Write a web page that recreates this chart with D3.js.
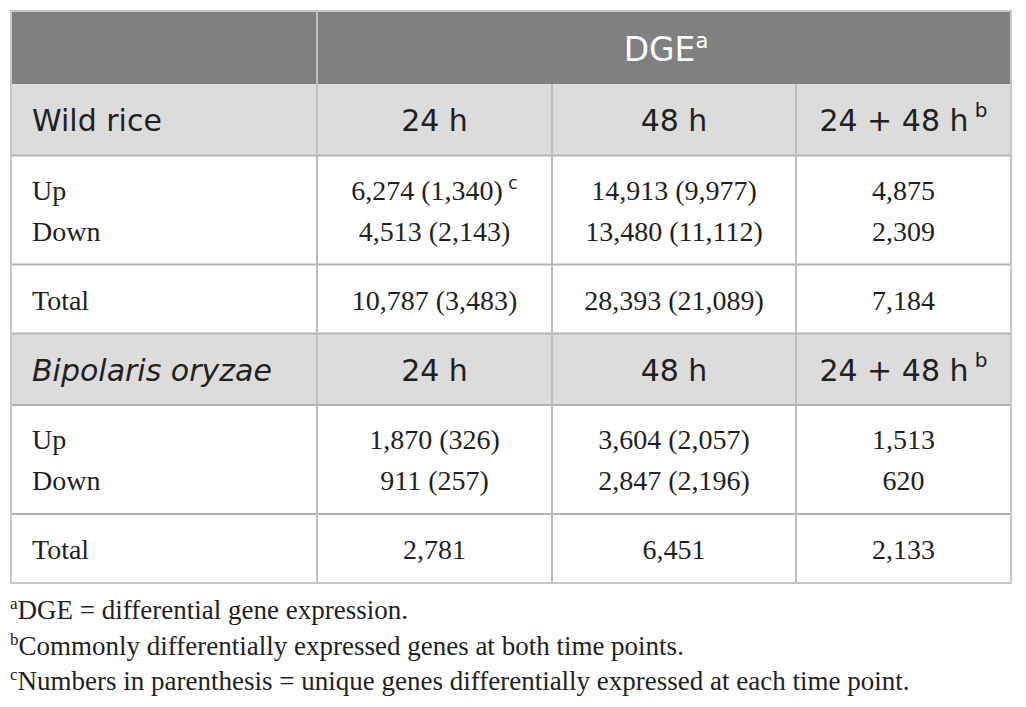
<!DOCTYPE html>
<html>
<head>
<meta charset="utf-8">
<script src="https://cdn.jsdelivr.net/npm/d3@7"></script>
<style>
  body { margin: 0; background: #fff; }
</style>
</head>
<body>
<div id="table-area"></div>
<script>
// column headings
var timePoints = ["24 h", "48 h", "24 + 48 h"];
var timeNotes = ["", "", "b"];
var groups = ["Wild rice", "Bipolaris oryzae"];
var rowLabels = ["Up", "Down", "Total"];

// wild rice (unique genes in parenthesis, null = not given)
var riceUp = [6274, 14913, 4875];
var riceUpUnique = [1340, 9977, null];
var riceDown = [4513, 13480, 2309];
var riceDownUnique = [2143, 11112, null];
var riceTotal = [10787, 28393, 7184];
var riceTotalUnique = [3483, 21089, null];

// Bipolaris oryzae
var fungusUp = [1870, 3604, 1513];
var fungusUpUnique = [326, 2057, null];
var fungusDown = [911, 2847, 620];
var fungusDownUnique = [257, 2196, null];
var fungusTotal = [2781, 6451, 2133];
var fungusTotalUnique = [null, null, null];

var footnotes = [
    ["a", "DGE = differential gene expression."],
    ["b", "Commonly differentially expressed genes at both time points."],
    ["c", "Numbers in parenthesis = unique genes differentially expressed at each time point."]
];

var blocks = [
    { name: groups[0], italic: false,
      rows: [[riceUp, riceUpUnique], [riceDown, riceDownUnique], [riceTotal, riceTotalUnique]] },
    { name: groups[1], italic: true,
      rows: [[fungusUp, fungusUpUnique], [fungusDown, fungusDownUnique], [fungusTotal, fungusTotalUnique]] }
];

var fmt = d3.format(",");
var cellText = function(v, u) {
    return u == null ? fmt(v) : fmt(v) + " (" + fmt(u) + ")";
};

var width = 1026, height = 707;
var colEdges = [11, 317, 552, 796, 1011];
var tableTop = 11, dgeBottom = 84;
var headH = 71.5, bodyH = 109, totH = 69;
var blockH = headH + bodyH + totH;
var tableBottom = dgeBottom + blockH * 2;

var sans = "'DejaVu Sans', sans-serif",
    serif = "'Liberation Serif', 'Times New Roman', serif",
    ink = "#231f20",
    rule = "#bdbdbd";

var svg = d3.select("#table-area")
    .append("svg")
        .attr("width", width)
        .attr("height", height);

var colCenter = function(i) { return (colEdges[i + 1] + colEdges[i + 2]) / 2; };

// header band
svg.append("rect")
    .attr("x", colEdges[0]).attr("y", tableTop)
    .attr("width", colEdges[4] - colEdges[0]).attr("height", dgeBottom - tableTop)
    .attr("fill", "#808080");

blocks.forEach(function(b, bi) {
    var y0 = dgeBottom + bi * blockH;
    b.y0 = y0;
    svg.append("rect")
        .attr("x", colEdges[0]).attr("y", y0)
        .attr("width", colEdges[4] - colEdges[0]).attr("height", headH)
        .attr("fill", "#dcdcdc");
});

// horizontal rules
var hLines = [];
blocks.forEach(function(b) {
    hLines.push(b.y0 + headH, b.y0 + headH + bodyH, b.y0 + blockH);
});
hLines.pop();
svg.selectAll("line.h")
    .data(hLines)
    .enter().append("line")
        .attr("class", "h")
        .attr("x1", colEdges[0]).attr("x2", colEdges[4])
        .attr("y1", function(d) { return d; })
        .attr("y2", function(d) { return d; })
        .attr("stroke", "#b4b4b4")
        .attr("stroke-width", 2);

// vertical rules
svg.selectAll("line.v")
    .data(colEdges.slice(1, 4))
    .enter().append("line")
        .attr("class", "v")
        .attr("x1", function(d) { return d; })
        .attr("x2", function(d) { return d; })
        .attr("y1", function(d, i) { return i == 0 ? tableTop : dgeBottom; })
        .attr("y2", tableBottom)
        .attr("stroke", rule)
        .attr("stroke-width", 2);

// outer frame
svg.append("rect")
    .attr("x", colEdges[0]).attr("y", tableTop)
    .attr("width", colEdges[4] - colEdges[0]).attr("height", tableBottom - tableTop)
    .attr("fill", "none")
    .attr("stroke", "#c8c8c8")
    .attr("stroke-width", 2);

// DGE title
var dge = svg.append("text")
    .attr("x", (colEdges[1] + colEdges[4]) / 2 + 2)
    .attr("y", 61)
    .attr("text-anchor", "middle")
    .attr("font-family", sans)
    .attr("font-size", "33px")
    .attr("fill", "#fff");
dge.append("tspan").text("DGE");
dge.append("tspan").attr("font-size", "21px").attr("dy", -13).text("a");

blocks.forEach(function(b) {
    var g = svg.append("g");

    // group heading
    g.append("text")
        .attr("x", 32)
        .attr("y", b.y0 + 47)
        .attr("font-family", sans)
        .attr("font-size", "30px")
        .attr("font-style", b.italic ? "italic" : "normal")
        .attr("fill", ink)
        .text(b.name);

    var heads = g.selectAll("text.time")
        .data(timePoints)
        .enter().append("text")
            .attr("class", "time")
            .attr("x", function(d, i) { return colCenter(i); })
            .attr("y", b.y0 + 47)
            .attr("text-anchor", "middle")
            .attr("font-family", sans)
            .attr("font-size", "30px")
            .attr("fill", ink);
    heads.append("tspan").text(function(d) { return d; });
    heads.filter(function(d, i) { return timeNotes[i] != ""; })
        .append("tspan")
            .attr("font-size", "20px")
            .attr("dy", -14)
            .text(function(d) { return " " + timeNotes[timePoints.indexOf(d)]; });

    // row labels and values
    var rowBase = [b.y0 + headH + 44, b.y0 + headH + 85, b.y0 + headH + bodyH + 45];
    rowLabels.forEach(function(lab, ri) {
        g.append("text")
            .attr("x", 32)
            .attr("y", rowBase[ri])
            .attr("font-family", serif)
            .attr("font-size", "28px")
            .attr("fill", ink)
            .text(lab);

        var vals = b.rows[ri][0].map(function(v, ci) {
            return { text: cellText(v, b.rows[ri][1][ci]), col: ci,
                     note: (b === blocks[0] && ri == 0 && ci == 0) ? "c" : "" };
        });
        var cells = g.selectAll("text.r" + ri)
            .data(vals)
            .enter().append("text")
                .attr("class", "r" + ri)
                .attr("x", function(d) { return colCenter(d.col); })
                .attr("y", rowBase[ri])
                .attr("text-anchor", "middle")
                .attr("font-family", serif)
                .attr("font-size", "28px")
                .attr("fill", ink);
        cells.append("tspan").text(function(d) { return d.text; });
        cells.filter(function(d) { return d.note != ""; })
            .append("tspan")
                .attr("font-family", sans)
                .attr("font-size", "17px")
                .attr("dy", -11)
                .text(function(d) { return " " + d.note; });
    });
});

// footnotes
var notes = svg.selectAll("text.note")
    .data(footnotes)
    .enter().append("text")
        .attr("class", "note")
        .attr("x", 10)
        .attr("y", function(d, i) { return 619 + i * 35.5; })
        .attr("font-family", serif)
        .attr("font-size", "27px")
        .attr("fill", ink);
notes.append("tspan")
    .attr("font-size", "17px")
    .attr("dy", -10)
    .text(function(d) { return d[0]; });
notes.append("tspan")
    .attr("dy", 10)
    .text(function(d) { return d[1]; });
</script>
</body>
</html>
